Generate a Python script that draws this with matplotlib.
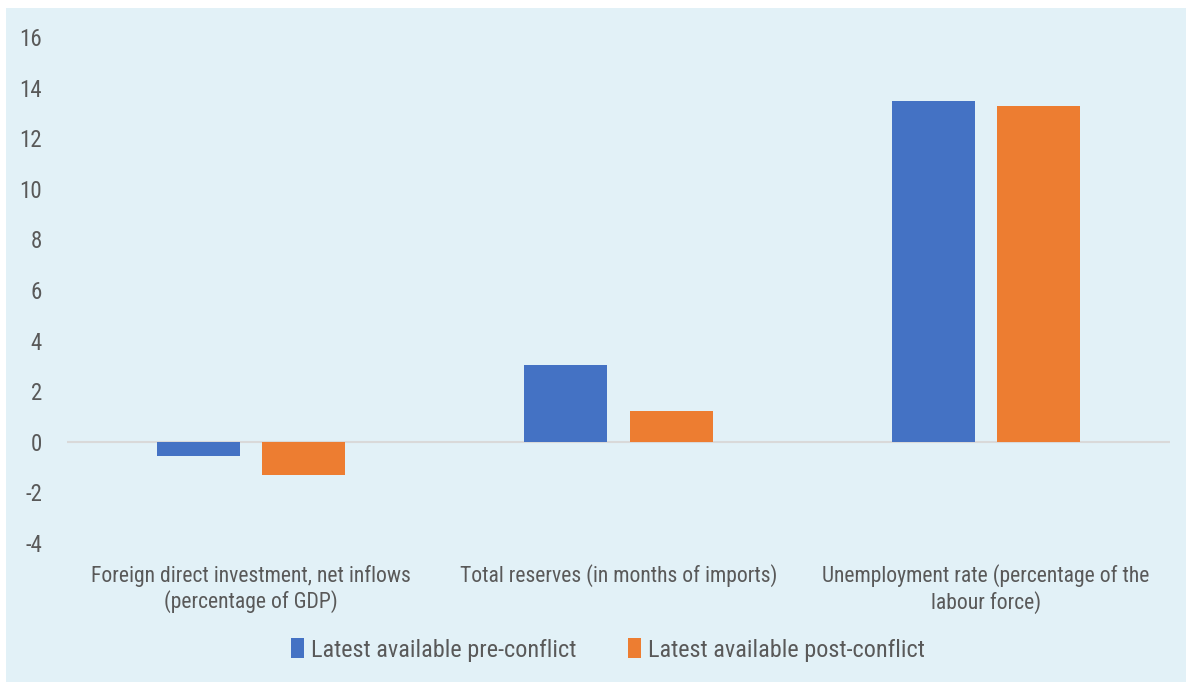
import matplotlib.pyplot as plt
import matplotlib.patches as patches
from matplotlib import font_manager
import numpy as np

# Indicadores y valores
categorias = ["Foreign direct investment, net inflows\n(percentage of GDP)",
              "Total reserves (in months of imports)",
              "Unemployment rate (percentage of the\nlabour force)"]
pre_conflicto = [-0.55, 3.05, 13.47]
post_conflicto = [-1.3, 1.21, 13.27]
series = ["Latest available pre-conflict", "Latest available post-conflict"]
ticks_y = [-4, -2, 0, 2, 4, 6, 8, 10, 12, 14, 16]

disponibles = {f.name for f in font_manager.fontManager.ttflist}
fuente = [f for f in ["Roboto Condensed", "Liberation Sans Narrow", "Roboto"] if f in disponibles]
plt.rcParams['font.family'] = fuente + ['DejaVu Sans']

azul = '#4472C4'
naranja = '#ED7D31'
fondo = '#E2F1F7'
gris = '#595959'

fig = plt.figure(figsize=(11.92, 6.82), dpi=100)
fig.patch.set_facecolor('white')
fig.add_artist(patches.Rectangle((6 / 1192, 0), 1180 / 1192, 674 / 682,
                                 transform=fig.transFigure, facecolor=fondo,
                                 edgecolor='none', zorder=0))

ax = fig.add_axes([67 / 1192, 1 - 543 / 682, 1103 / 1192, 506 / 682])
ax.set_facecolor('none')

x = np.arange(len(categorias))
ancho = 0.226
ax.bar(x - 0.143, pre_conflicto, ancho, color=azul, label=series[0], zorder=3)
ax.bar(x + 0.143, post_conflicto, ancho, color=naranja, label=series[1], zorder=3)
ax.axhline(0, color='#D9D9D9', lw=1.5, zorder=2)

ax.set_xlim(-0.5, 2.5)
ax.set_ylim(-4, 16)
ax.set_yticks(ticks_y)
ax.set_yticklabels([str(t) for t in ticks_y], fontsize=16.5, color=gris)
ax.tick_params(axis='y', length=0, pad=18)
ax.set_xticks([])
for i, c in enumerate(categorias):
    ax.text(i, -4.85, c, ha='center', va='top', fontsize=15.6, color=gris,
            linespacing=1.2)
for s in ax.spines.values():
    s.set_visible(False)

fig.legend(loc='center', bbox_to_anchor=(0.5 + 12 / 1192, 1 - 650 / 682), ncol=2,
           frameon=False, fontsize=17.5, labelcolor=gris, handlelength=0.55,
           handleheight=0.9, handletextpad=0.3, columnspacing=2.1)

plt.savefig('out.png', dpi=100, facecolor='white')
